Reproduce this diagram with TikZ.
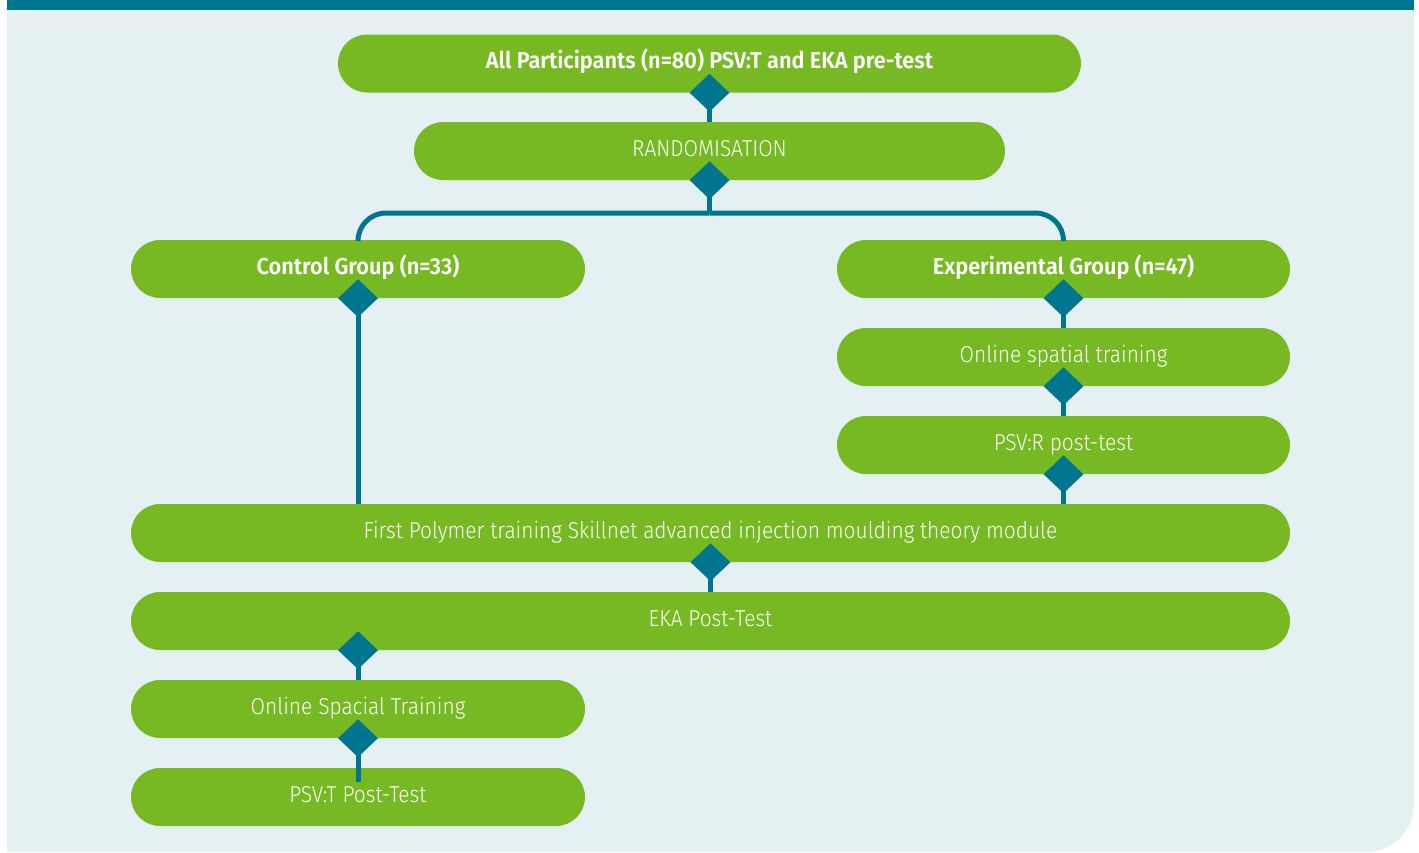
\documentclass[tikz,border=0pt]{standalone}
\usepackage{fontspec}
\setmainfont{Fira Sans}[UprightFont=* Light, BoldFont=* SemiBold,
  UprightFeatures={FakeStretch=0.91}, BoldFeatures={FakeStretch=0.945}]
\usetikzlibrary{shapes.geometric,calc}
\definecolor{flowgreen}{HTML}{76B923}
\definecolor{flowteal}{HTML}{00758F}
\definecolor{panelbg}{HTML}{E5F0F2}

\begin{document}
\begin{tikzpicture}[x=1pt,y=-1pt,
  stage/.style={fill=flowgreen, rounded corners=29pt, minimum height=58pt,
    text=white, font=\fontsize{23}{26}\selectfont, inner sep=0pt,
    text height=16pt, text depth=6pt},
  gem/.style={diamond, fill=flowteal, minimum width=40pt, minimum height=38pt, inner sep=0pt},
  conn/.style={draw=flowteal, line width=5pt}]

\useasboundingbox (0,0) rectangle (1419,852);
\fill[white] (0,0) rectangle (1419,852);
% panel with rounded lower right corner and teal header band
\fill[panelbg] (7,10) -- (1414,10) -- (1414,804)
  .. controls (1414,830.5) and (1392.5,852) .. (1366,852) -- (7,852) -- cycle;
\fill[flowteal] (7,0) rectangle (1414,10);

% stages
\node[stage, minimum width=743pt] (all) at (709.5,63.5) {\bfseries All Participants (n=80) PSV:T and EKA pre-test};
\node[stage, minimum width=591pt] (rand) at (709.5,151) {RANDOMISATION};
\node[stage, minimum width=454pt] (ctrl) at (358,269) {\bfseries Control Group (n=33)};
\node[stage, minimum width=453pt] (exp) at (1063.5,269) {\bfseries Experimental Group (n=47)};
\node[stage, minimum width=453pt] (online) at (1063.5,357) {Online spatial training};
\node[stage, minimum width=453pt] (psvr) at (1063.5,445) {PSV:R post-test};
\node[stage, minimum width=1159pt] (first) at (710.5,533) {First Polymer training Skillnet advanced injection moulding theory module};
\node[stage, minimum width=1159pt] (eka) at (710.5,621) {EKA Post-Test};
\node[stage, minimum width=454pt] (ost) at (358,709) {Online Spacial Training};
\node[stage, minimum width=454pt] (psvt) at (358,797) {PSV:T Post-Test};

% junction points
\coordinate (fork) at (709.5,213);
\coordinate (ekaout) at (eka.south -| ost.south);

% connectors
\draw[conn] (all.south) -- (rand.north);
\draw[conn] (rand.south) -- (fork);
\draw[conn, rounded corners=28pt] (ctrl.north) |- (fork);
\draw[conn, rounded corners=28pt] (exp.north) |- (fork);
\draw[conn] (ctrl.south) -- (ctrl.south |- first.north);
\draw[conn] (exp.south) -- (online.north);
\draw[conn] (online.south) -- (psvr.north);
\draw[conn] (psvr.south) -- (psvr.south |- first.north);
\draw[conn] (first.south) -- (eka.north);
\draw[conn] (ekaout) -- (ost.north);
\draw[conn] (ost.south) -- ($(psvt.north)+(0,14)$);

% diamonds
\node[gem] (dall) at (all.south) {};
\node[gem] (drand) at (rand.south) {};
\node[gem] (dctrl) at (ctrl.south) {};
\node[gem] (dexp) at (exp.south) {};
\node[gem] (donline) at (online.south) {};
\node[gem] (dpsvr) at (psvr.south) {};
\node[gem] (dfirst) at (first.south) {};
\node[gem] (deka) at (ekaout) {};
\node[gem] (dost) at (ost.south) {};
\end{tikzpicture}
\end{document}
